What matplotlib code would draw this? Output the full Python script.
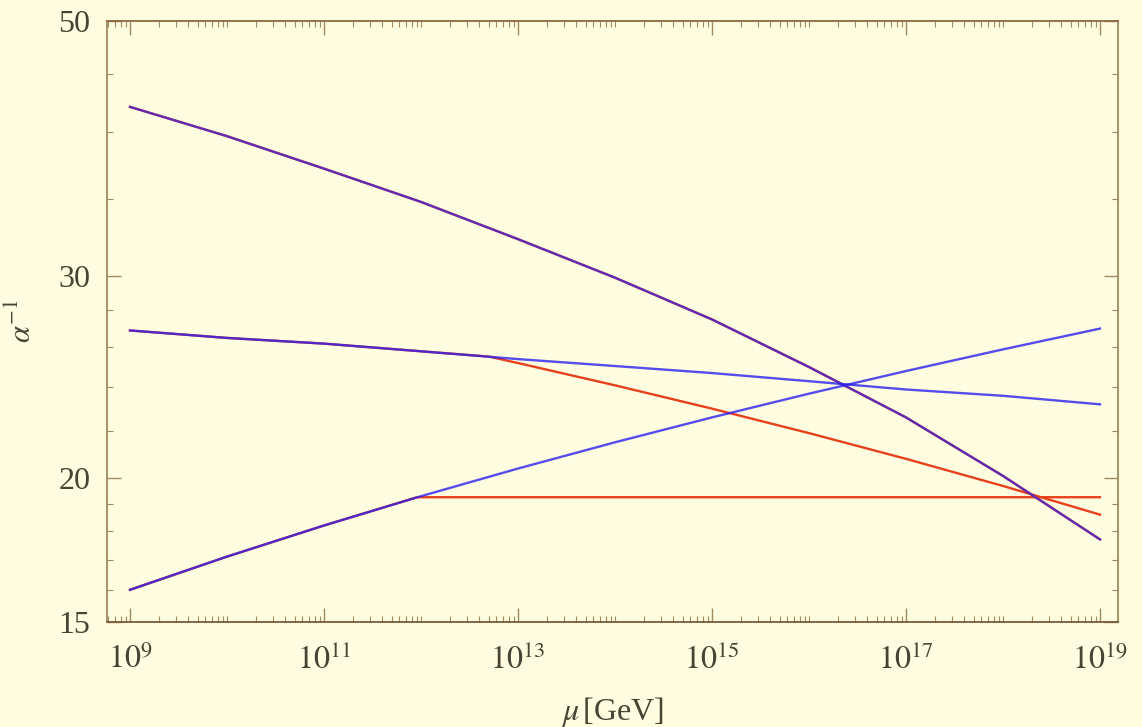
import numpy as np
import matplotlib.pyplot as plt
from matplotlib.ticker import LogLocator, FixedLocator, NullFormatter, FixedFormatter

plt.rcParams['font.family'] = ['Liberation Serif', 'DejaVu Serif']
plt.rcParams['mathtext.fontset'] = 'stix'

# log10(mu / GeV) and inverse couplings
mu_exp = [9, 10, 11, 12, 13, 14, 15, 16, 17, 18, 19]
a_top = [42.1, 39.7, 37.2, 34.8, 32.3, 29.9, 27.5, 25.0, 22.6, 20.1, 17.7]
a_mid_blue = [26.9, 26.5, 26.2, 25.8, 25.4, 25.05, 24.7, 24.3, 23.9, 23.6, 23.2]
a_low_blue = [16.0, 17.1, 18.2, 19.3, 20.4, 21.5, 22.6, 23.7, 24.8, 25.9, 27.0]

mu_exp_mid_red = [9, 10, 11, 12, 12.7, 13, 14, 15, 16, 17, 18, 19]
a_mid_red = [26.9, 26.5, 26.2, 25.8, 25.53, 25.2, 24.1, 23.0, 21.9, 20.8, 19.7, 18.6]
mu_exp_low_red = [9, 10, 11, 11.96, 13, 15, 17, 19]
a_low_red = [16.0, 17.1, 18.2, 19.26, 19.26, 19.26, 19.26, 19.26]

bg = '#fffde0'
frame = '#a08a60'
txt = '#4a4232'
red = '#e8401c'
blue = '#2a20f0'

fig = plt.figure(figsize=(11.42, 7.27), dpi=100, facecolor=bg)
ax = fig.add_axes([0.0937, 0.1444, 0.8853, 0.8267], facecolor=bg)

mu = 10.0 ** np.array(mu_exp)
# red model first, blue on top -> purple where they coincide
ax.plot(mu, a_top, color=red, lw=1.7)
ax.plot(10.0 ** np.array(mu_exp_mid_red), a_mid_red, color=red, lw=1.7)
ax.plot(10.0 ** np.array(mu_exp_low_red), a_low_red, color=red, lw=1.7)
ax.plot(mu, a_top, color=blue, lw=1.7, alpha=0.7)
ax.plot(mu, a_mid_blue, color=blue, lw=1.7, alpha=0.8)
ax.plot(mu, a_low_blue, color=blue, lw=1.7, alpha=0.8)

ax.set_xscale('log')
ax.set_yscale('log')
ax.set_xlim(10 ** 8.763, 10 ** 19.186)
ax.set_ylim(15, 50)

xt = [1e9, 1e11, 1e13, 1e15, 1e17, 1e19]
ax.xaxis.set_major_locator(FixedLocator(xt))
ax.xaxis.set_major_formatter(FixedFormatter([r'$10^{%d}$' % k for k in [9, 11, 13, 15, 17, 19]]))
ax.xaxis.set_minor_locator(LogLocator(base=10, subs=np.arange(1, 10), numticks=50))
ax.xaxis.set_minor_formatter(NullFormatter())

yt = [15, 20, 30, 50]
ax.yaxis.set_major_locator(FixedLocator(yt))
ax.yaxis.set_major_formatter(FixedFormatter([str(v) for v in yt]))
ax.yaxis.set_minor_locator(FixedLocator([16, 17, 18, 19, 22, 24, 26, 28, 35, 40, 45]))
ax.yaxis.set_minor_formatter(NullFormatter())

for s in ax.spines.values():
    s.set_color(frame)
    s.set_linewidth(1.3)
ax.spines['bottom'].set_color('#7a5a3a')
ax.spines['top'].set_color('#8a6a40')

ax.tick_params(which='both', direction='in', top=True, right=True, color=frame, labelcolor=txt)
ax.tick_params(which='major', length=10, width=1.0, labelsize=23)
ax.tick_params(axis='x', which='major', pad=16)
ax.tick_params(axis='y', which='major', pad=12)
ax.tick_params(which='minor', length=4, width=0.8)

ax.set_xlabel(r'$\mu\,$[GeV]', fontsize=23, color=txt, labelpad=14)
ax.set_ylabel(r'$\alpha^{-1}$', fontsize=22, color=txt)
ax.yaxis.set_label_coords(-0.068, 0.5)

fig.savefig('out.png', dpi=100, facecolor=bg)
